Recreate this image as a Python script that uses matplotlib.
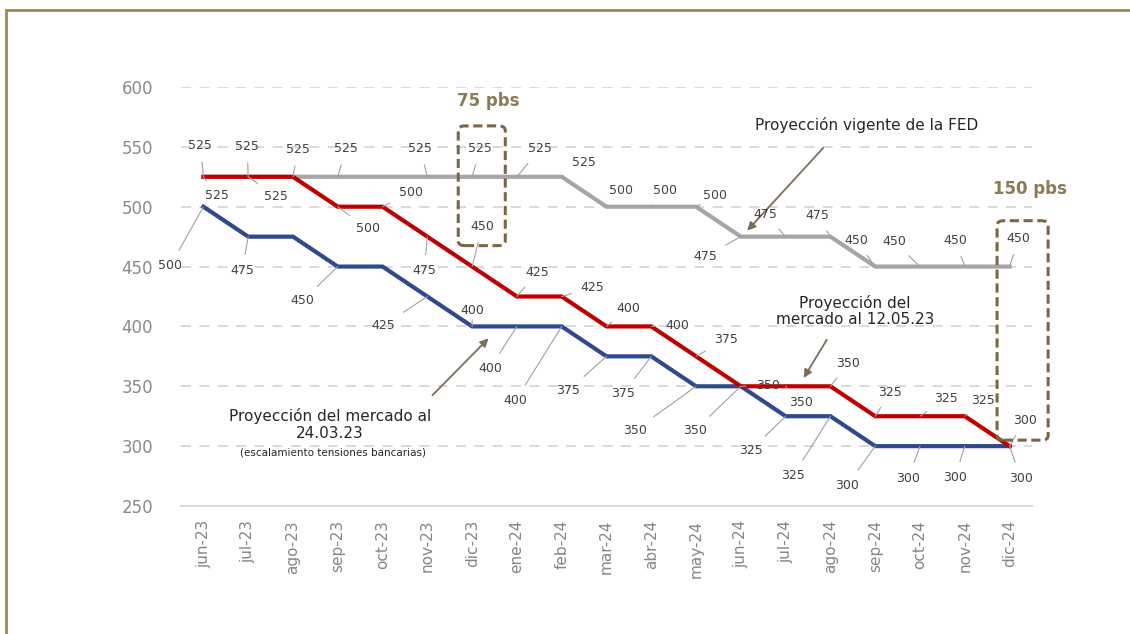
import numpy as np
import matplotlib.pyplot as plt
from matplotlib.patches import FancyBboxPatch, Rectangle

meses = ['jun-23', 'jul-23', 'ago-23', 'sep-23', 'oct-23', 'nov-23', 'dic-23',
         'ene-24', 'feb-24', 'mar-24', 'abr-24', 'may-24', 'jun-24', 'jul-24',
         'ago-24', 'sep-24', 'oct-24', 'nov-24', 'dic-24']

# tasas proyectadas (pbs)
fed = [525, 525, 525, 525, 525, 525, 525, 525, 525, 500, 500, 500,
       475, 475, 475, 450, 450, 450, 450]
mercado_may = [525, 525, 525, 500, 500, 475, 450, 425, 425, 400, 400, 375,
               350, 350, 350, 325, 325, 325, 300]
mercado_mar = [500, 475, 475, 450, 450, 425, 400, 400, 400, 375, 375, 350,
               350, 325, 325, 300, 300, 300, 300]

# desplazamiento de cada etiqueta en pixeles (None = sin etiqueta)
off_fed = [(-3, 31), (-1, 30), (5, 27), (8, 28), None, (-7, 28), (8, 28),
           (23, 28), (22, 14), (14, 16), (14, 16), (19, 11), (-36, -20),
           (-20, 22), (-13, 21), (-19, 26), (-26, 25), (-10, 26), (9, 28)]
off_may = [(14, -19), (28, -20), None, (30, -22), (28, 14), (-3, -34), (10, 40),
           (20, 24), (31, 9), (22, 18), (26, 1), (30, 17), (27, 1), (15, -16),
           (18, 23), (15, 24), (26, 18), (18, 16), (15, 26)]
off_mar = [(-33, -59), (-6, -34), None, (-35, -34), None, (-44, -29), (0, 16),
           (-27, -42), (-46, -74), (-38, -34), (-28, -37), (-61, -44), (-46, -44),
           (-35, -34), (-37, -59), (-28, -39), (-12, -32), (-10, -31), (11, -32)]

c_fed = '#a6a6a6'
c_may = '#c00000'
c_mar = '#2e4a8c'
c_caja = '#7a6748'

fig = plt.figure(figsize=(11.3, 6.34), dpi=100)
fig.patches.append(Rectangle((6 / 1130, -0.1), 1.2, (624 / 634) + 0.1,
                             transform=fig.transFigure, fill=False,
                             edgecolor='#9b8b4e', lw=2))
ax = fig.add_axes([181 / 1130, 128 / 634, 851 / 1130, 419 / 634])

x = np.arange(len(meses))
ax.plot(x, fed, color=c_fed, lw=3, solid_joinstyle='miter', zorder=3)
ax.plot(x, mercado_mar, color=c_mar, lw=3, solid_joinstyle='miter', zorder=4)
ax.plot(x, mercado_may, color=c_may, lw=3, solid_joinstyle='miter', zorder=5)

ax.set_xlim(-0.5, len(meses) - 0.5)
ax.set_ylim(250, 600)
ax.set_yticks(range(250, 601, 50))
ax.set_xticks(x)
ax.set_xticklabels(meses, rotation=90, fontsize=11, color='#858585')
ax.tick_params(axis='y', length=0, pad=20, labelsize=12, labelcolor='#8a8a8a')
ax.tick_params(axis='x', length=0, pad=10)
for s in ['top', 'right', 'left']:
    ax.spines[s].set_visible(False)
ax.spines['bottom'].set_color('#d9d9d9')
ax.spines['bottom'].set_linewidth(1.5)
for v in range(300, 601, 50):
    ax.axhline(v, color='#d3d3d3', lw=1.2, dashes=(6, 5), zorder=1)


def etiquetas(valores, offsets):
    for i, (v, off) in enumerate(zip(valores, offsets)):
        if off is None:
            continue
        ax.annotate(str(v), xy=(i, v), xytext=off, textcoords='offset pixels',
                    ha='center', va='center', fontsize=9, color='#404040',
                    zorder=6,
                    arrowprops=dict(arrowstyle='-', color='#a0a0a0', lw=0.8,
                                    shrinkA=5, shrinkB=0))


etiquetas(fed, off_fed)
etiquetas(mercado_may, off_may)
etiquetas(mercado_mar, off_mar)

# cajas de diferencia
for (x0, x1, y0, y1) in [(5.69, 6.74, 467.5, 567.5), (17.72, 18.86, 305, 488.3)]:
    ax.add_patch(FancyBboxPatch((x0, y0), x1 - x0, y1 - y0,
                                boxstyle='round,pad=0,rounding_size=0.15',
                                mutation_aspect=25, fill=False, edgecolor=c_caja,
                                lw=2.2, ls=(0, (3, 1.5)), clip_on=False, zorder=7))
ax.text(6.36, 588, '75 pbs', ha='center', va='center', fontsize=12,
        color='#8c7b55', fontweight='bold')
ax.text(18.46, 515, '150 pbs', ha='center', va='center', fontsize=12,
        color='#8c7b55', fontweight='bold', clip_on=False)

flecha = dict(arrowstyle='-|>', color='#7b6e5a', lw=1.3, mutation_scale=12)
ax.text(14.8, 568, 'Proyección vigente de la FED', ha='center', va='center',
        fontsize=11, color='#262626')
ax.annotate('', xy=(12.1, 478.3), xytext=(13.88, 550.8), arrowprops=flecha)

ax.text(14.55, 413, 'Proyección del\nmercado al 12.05.23', ha='center',
        va='center', fontsize=11, color='#262626', linespacing=1.1)
ax.annotate('', xy=(13.37, 355), xytext=(13.95, 390.8), arrowprops=flecha)

ax.text(2.83, 318, 'Proyección del mercado al\n24.03.23', ha='center',
        va='center', fontsize=11, color='#262626', linespacing=1.1)
ax.text(2.9, 295, '(escalamiento tensiones bancarias)', ha='center',
        va='center', fontsize=7.5, color='#262626')
ax.annotate('', xy=(6.41, 391.7), xytext=(5.07, 340.8), arrowprops=flecha)

fig.savefig('out.png', dpi=100)
